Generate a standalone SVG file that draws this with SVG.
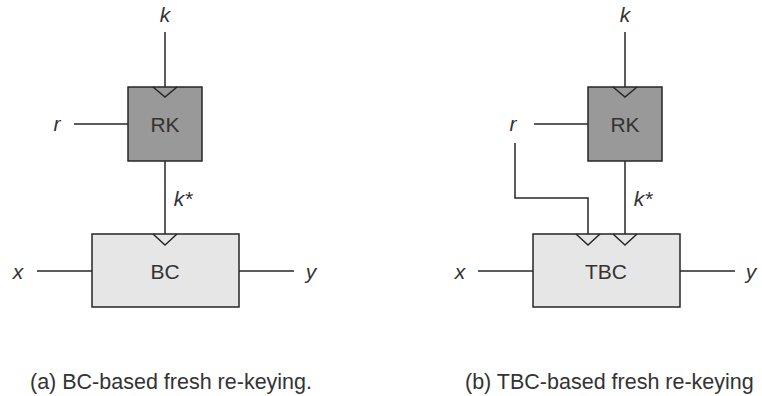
<svg xmlns="http://www.w3.org/2000/svg" width="762" height="396" viewBox="0 0 762 396">
<style>
.box{stroke:#262626;stroke-width:1.5}
.rk{fill:#999999}
.bc{fill:#e6e6e6}
.w{fill:none;stroke:#262626;stroke-width:1.5}
.lbl{font-family:"Liberation Sans",Arial,sans-serif;font-size:21px;fill:#333333}
.it{font-style:italic}
.cap{font-family:"Liberation Sans",Arial,sans-serif;font-size:21.5px;fill:#333333}
</style>
<rect width="762" height="396" fill="#ffffff"/>
<g id="connectors">
<line class="w" x1="165" y1="32" x2="165" y2="87"/>
<line class="w" x1="74" y1="124" x2="128" y2="124"/>
<line class="w" x1="165" y1="161" x2="165" y2="234"/>
<line class="w" x1="37" y1="271" x2="92" y2="271"/>
<line class="w" x1="239" y1="271" x2="294" y2="271"/>
<line class="w" x1="625" y1="32" x2="625" y2="87"/>
<line class="w" x1="534" y1="124" x2="588" y2="124"/>
<polyline class="w" points="515,143 515,198 588,198 588,234"/>
<line class="w" x1="625" y1="161" x2="625" y2="234"/>
<line class="w" x1="478" y1="271" x2="533" y2="271"/>
<line class="w" x1="680" y1="271" x2="735" y2="271"/>
</g>
<g id="rk-a">
<rect class="box rk" x="128" y="87" width="74" height="74"/>
<polyline class="w" points="153,87 165,97 177,87"/>
<text class="lbl" x="165" y="132" text-anchor="middle">RK</text>
</g>
<g id="bc-a">
<rect class="box bc" x="92" y="234" width="147" height="73"/>
<polyline class="w" points="153,234 165,245 177,234"/>
<text class="lbl" x="165" y="279" text-anchor="middle">BC</text>
</g>
<g id="rk-b">
<rect class="box rk" x="588" y="87" width="74" height="74"/>
<polyline class="w" points="613,87 625,97 637,87"/>
<text class="lbl" x="625" y="132" text-anchor="middle">RK</text>
</g>
<g id="tbc-b">
<rect class="box bc" x="533" y="234" width="147" height="73"/>
<polyline class="w" points="576,234 588,245 600,234"/>
<polyline class="w" points="613,234 625,245 637,234"/>
<text class="lbl" x="606" y="279" text-anchor="middle">TBC</text>
</g>
<g id="labels">
<text class="lbl it" x="165" y="22" text-anchor="middle">k</text>
<text class="lbl it" x="57" y="131" text-anchor="middle">r</text>
<text class="lbl it" x="183" y="206" text-anchor="middle">k*</text>
<text class="lbl it" x="18" y="279" text-anchor="middle">x</text>
<text class="lbl it" x="311" y="279" text-anchor="middle">y</text>
<text class="lbl it" x="625" y="22" text-anchor="middle">k</text>
<text class="lbl it" x="513" y="131" text-anchor="middle">r</text>
<text class="lbl it" x="643" y="206" text-anchor="middle">k*</text>
<text class="lbl it" x="460" y="279" text-anchor="middle">x</text>
<text class="lbl it" x="751" y="279" text-anchor="middle">y</text>
</g>
<text class="cap" x="30" y="389">(a) BC-based fresh re-keying.</text>
<text class="cap" x="465" y="389">(b) TBC-based fresh re-keying</text>
</svg>
